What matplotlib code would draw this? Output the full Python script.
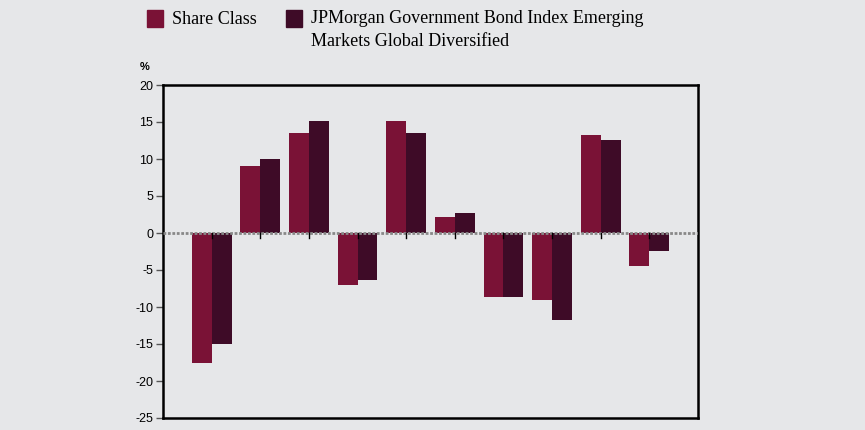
import numpy as np
import matplotlib.pyplot as plt
from matplotlib.patches import Rectangle

share_class = [-17.5, 9.0, 13.5, -7.0, 15.2, 2.1, -8.6, -9.0, 13.2, -4.5]
benchmark = [-15.0, 10.0, 15.2, -6.3, 13.5, 2.7, -8.7, -11.7, 12.6, -2.4]
labels = ['Share Class', 'JPMorgan Government Bond Index Emerging\nMarkets Global Diversified']
yticks = [20, 15, 10, 5, 0, -5, -10, -15, -20, -25]

c_share = '#7a1236'
c_bench = '#3e0b27'
bg = '#e6e7e9'

fig = plt.figure(figsize=(8.65, 4.3), dpi=100, facecolor=bg)
ax = fig.add_axes([163/865, 1-418/430, 535/865, 333/430])
ax.set_facecolor(bg)

x = np.arange(len(share_class))
w = 0.41
ax.bar(x - w/2, share_class, w, color=c_share, zorder=2)
ax.bar(x + w/2, benchmark, w, color=c_bench, zorder=2)

ax.axhline(0, color='#888888', lw=2, ls=(0, (1, 0.6)), zorder=3)

ax.set_xlim(-1, 10)
ax.set_ylim(-25, 20)
ax.set_yticks(yticks)
ax.set_yticklabels([str(t) for t in yticks], family='Liberation Sans', fontsize=9)
ax.tick_params(axis='y', direction='out', length=5, width=1, color='#555555', pad=2)
ax.set_xticks([])
for xi in x:
    ax.plot([xi, xi], [0, -0.7], color='black', lw=1, zorder=4)

for s in ax.spines.values():
    s.set_linewidth(1.8)
    s.set_color('black')

ax.text(-0.025, 1.04, '%', transform=ax.transAxes, ha='right', va='bottom',
        family='Liberation Sans', fontsize=8, fontweight='bold')

# legend
fig.patches.append(Rectangle((147/865, 1-27/430), 16/865, 17/430, color=c_share,
                             transform=fig.transFigure, figure=fig))
fig.text(172/865, 1-19/430, labels[0], family='Liberation Serif', fontsize=13, va='center')
fig.patches.append(Rectangle((286/865, 1-27/430), 16/865, 17/430, color=c_bench,
                             transform=fig.transFigure, figure=fig))
fig.text(311/865, 1-10/430, labels[1], family='Liberation Serif', fontsize=13, va='top',
         linespacing=1.45)

fig.savefig('out.png', dpi=100, facecolor=bg)
